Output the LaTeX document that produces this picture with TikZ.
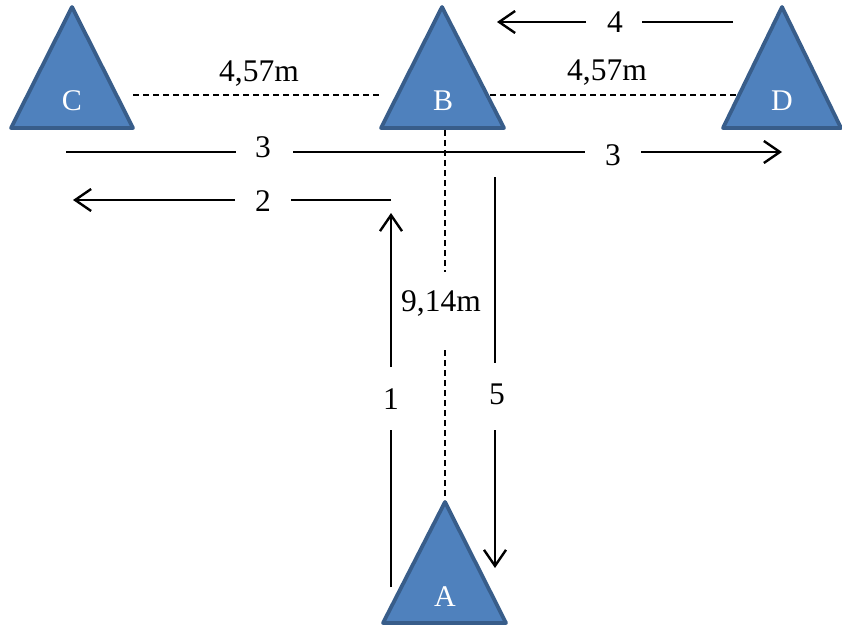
\documentclass[tikz,border=0pt]{standalone}
\usepackage{fontspec}
\setmainfont{Liberation Serif}
\usetikzlibrary{arrows.meta}
\definecolor{trifill}{HTML}{4F81BD}
\definecolor{tridraw}{HTML}{385D8A}
\tikzset{
  tri/.style={fill=trifill,draw=tridraw,line width=3.8pt,line join=round},
  trilbl/.style={text=white,inner sep=0pt,font=\fontsize{30}{33}\selectfont},
  lbl/.style={inner sep=0pt,font=\fontsize{31.5}{34}\selectfont},
  dim/.style={dash pattern=on 6pt off 4pt,line width=1.5pt},
  seg/.style={line width=2.6pt},
  arr/.style={seg,-{Straight Barb[length=16pt,width=22pt,line width=2.4pt]}}
}
\begin{document}
\begin{tikzpicture}[x=1pt,y=-1pt]
\path[use as bounding box,fill=white] (0,0) rectangle (842,631);
% triangles
\draw[tri] (72,7) -- (133,128) -- (11,128) -- cycle;
\draw[tri] (442,7) -- (504,128) -- (381,128) -- cycle;
\draw[tri] (782,7) -- (841,128) -- (723,128) -- cycle;
\draw[tri] (445,502) -- (506,623) -- (383,623) -- cycle;
\node[trilbl] (C) at (72,101) {C};
\node[trilbl] (B) at (443,101) {B};
\node[trilbl] (D) at (782,101) {D};
\node[trilbl] (A) at (445,597) {A};
% dimension lines
\coordinate (cb1) at (133,95); \coordinate (cb2) at (381,95);
\coordinate (bd1) at (490,95); \coordinate (bd2) at (738,95);
\coordinate (ba1) at (445,130); \coordinate (ba2) at (445,272);
\coordinate (ba3) at (445,350); \coordinate (ba4) at (445,500);
\draw[dim] (cb1) -- (cb2);
\draw[dim] (bd1) -- (bd2);
\draw[dim] (ba1) -- (ba2);
\draw[dim] (ba3) -- (ba4);
\node[lbl] (dCB) at (259,74) {4,57m};
\node[lbl] (dBD) at (607,73) {4,57m};
\node[lbl] (dBA) at (441,303) {9,14m};
% path 1
\coordinate (p1a) at (391,587); \coordinate (p1b) at (391,430);
\coordinate (p1c) at (391,367); \coordinate (p1d) at (391,213);
\draw[seg] (p1a) -- (p1b);
\draw[arr] (p1c) -- (p1d);
\node[lbl] (n1) at (391,399) {1};
% path 2
\coordinate (p2a) at (391,200); \coordinate (p2b) at (291,200);
\coordinate (p2c) at (235,200); \coordinate (p2d) at (73,200);
\draw[seg] (p2a) -- (p2b);
\draw[arr] (p2c) -- (p2d);
\node[lbl] (n2) at (263,201) {2};
% path 3
\coordinate (p3a) at (66,152); \coordinate (p3b) at (236,152);
\coordinate (p3c) at (293,152); \coordinate (p3d) at (585,152);
\coordinate (p3e) at (641,152); \coordinate (p3f) at (782,152);
\draw[seg] (p3a) -- (p3b);
\draw[seg] (p3c) -- (p3d);
\draw[arr] (p3e) -- (p3f);
\node[lbl] (n3a) at (263,147) {3};
\node[lbl] (n3b) at (613,155) {3};
% path 4
\coordinate (p4a) at (733,22); \coordinate (p4b) at (642,22);
\coordinate (p4c) at (586,22); \coordinate (p4d) at (497,22);
\draw[seg] (p4a) -- (p4b);
\draw[arr] (p4c) -- (p4d);
\node[lbl] (n4) at (615,22) {4};
% path 5
\coordinate (p5a) at (495,177); \coordinate (p5b) at (495,363);
\coordinate (p5c) at (495,430); \coordinate (p5d) at (495,568);
\draw[seg] (p5a) -- (p5b);
\draw[arr] (p5c) -- (p5d);
\node[lbl] (n5) at (497,394) {5};
\end{tikzpicture}
\end{document}
